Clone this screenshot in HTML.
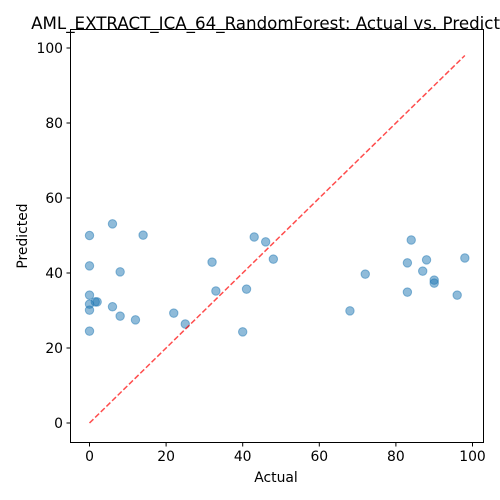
<!DOCTYPE html>
<html><head><meta charset="utf-8"><style>
html,body{margin:0;padding:0;background:#fff;width:500px;height:500px;overflow:hidden}
svg{font-family:"DejaVu Sans","Liberation Sans",sans-serif}
</style></head><body>
<svg id="chart" width="500" height="500">
<text x="276" y="29" text-anchor="middle" font-size="16.7">AML_EXTRACT_ICA_64_RandomForest: Actual vs. Predicted</text>
<rect x="70.5" y="29.5" width="413" height="413" fill="none" stroke="#000" stroke-width="1"/>
<g id="xt"></g><g id="yt"></g><g id="pts"></g>
<text x="276" y="482" text-anchor="middle" font-size="13.9">Actual</text>
<text x="27" y="236" text-anchor="middle" font-size="13.9" transform="rotate(-90 27 236)">Predicted</text>
</svg>
<script>
const actual=[0,0,0,0,0,0,2,1.5,6,6,8,8,12,14,22,25,32,33,40,41,43,46,48,68,72,83,83,84,87,88,90,90,96,98];
const predicted=[50,41.9,34.1,31.7,30.1,24.5,32.3,32.3,53.1,31,40.3,28.5,27.5,50.1,29.3,26.4,42.9,35.2,24.3,35.7,49.6,48.3,43.7,29.9,39.7,42.7,34.9,48.8,40.5,43.5,38.1,37.3,34.1,44];
const xTicks=[0,20,40,60,80,100];
const yTicks=[0,20,40,60,80,100];
const NS="http://www.w3.org/2000/svg";
const sx=v=>89.5+v*3.83, sy=v=>423-v*3.75;
function mk(t,a,p){const e=document.createElementNS(NS,t);for(const k in a)e.setAttribute(k,a[k]);p.appendChild(e);return e;}
const xt=document.getElementById('xt'),yt=document.getElementById('yt'),pts=document.getElementById('pts');
xTicks.forEach(v=>{const x=sx(v);
const l=mk('line',{x1:x,x2:x,y1:442.5,y2:446.5,stroke:'#000'},xt);


const t=mk('text',{x:x,y:461,'text-anchor':'middle','font-size':13.9},xt);t.textContent=v;

});
yTicks.forEach(v=>{const y=sy(v);
const l=mk('line',{x1:66.5,x2:70.5,y1:y,y2:y,stroke:'#000'},yt);


const t=mk('text',{x:63,y:y+5,'text-anchor':'end','font-size':13.9},yt);t.textContent=v;

});
actual.forEach((a,i)=>{const c=mk('circle',{cx:sx(a),cy:sy(predicted[i]),r:4.2,fill:'#1f77b4','fill-opacity':0.5,stroke:'#1f77b4','stroke-opacity':0.5},pts);

});
const mx=Math.max(...actual);
const d=mk('line',{x1:sx(0),y1:sy(0),x2:sx(mx),y2:sy(mx),stroke:'#ff0000','stroke-opacity':0.7,'stroke-width':1.5,'stroke-dasharray':'5.5,2.4'},pts);


</script>
</body></html>
